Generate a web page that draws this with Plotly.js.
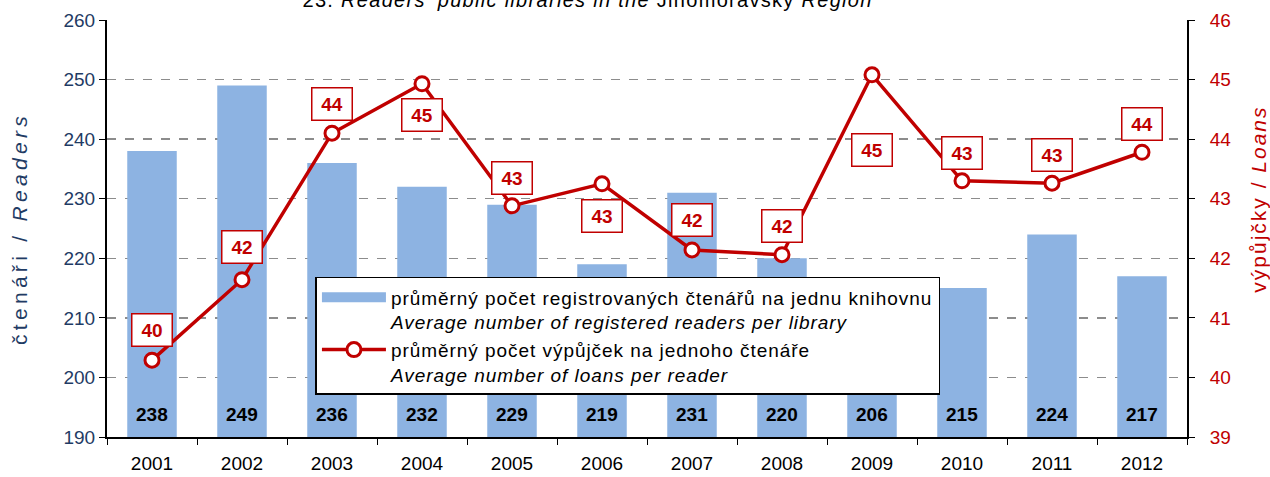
<!DOCTYPE html>
<html>
<head>
<meta charset="utf-8">
<script src="https://cdn.plot.ly/plotly-3.0.1.min.js"></script>
<style>
html,body{margin:0;padding:0;background:#fff;}
#chart{width:1270px;height:477px;}
#err{position:absolute;left:0;top:0;color:#f0f;font-size:12px;}
.legendtext{letter-spacing:0.95px;}
.ytitle{letter-spacing:4.3px;}
.gtitle{letter-spacing:1.3px;}
#chart g.annotation[data-index="24"] text{letter-spacing:2px;}
</style>
</head>
<body>
<div id="chart"></div>
<div id="err"></div>
<script>
const years = ['2001','2002','2003','2004','2005','2006','2007','2008','2009','2010','2011','2012'];
const readers = [238, 249, 236, 232, 229, 219, 231, 220, 206, 215, 224, 217];
const loans = [40.29, 41.64, 44.10, 44.93, 42.88, 43.25, 42.14, 42.06, 45.08, 43.30, 43.26, 43.78];
const loanLabels = ['40','42','44','45','43','43','42','42','45','43','43','44'];
const leftTicks = [190, 200, 210, 220, 230, 240, 250, 260];
const rightTicks = [39, 40, 41, 42, 43, 44, 45, 46];
const barName = 'průměrný počet registrovaných čtenářů na jednu knihovnu<br><i>Average number of registered readers per library</i>';
const lineName = 'průměrný počet výpůjček na jednoho čtenáře<br><i>Average number of loans per reader</i>';
const titleText = '23. <i>Readers\' public libraries in the</i> Jihomoravský <i>Region</i>';
const leftTitle = 'čtenáři / <i>Readers</i>';
const rightTitle = 'výpůjčky / <i>Loans</i>';

// label offsets in pixels (layout, not data)
const labelShift = [30, 33, 29, -31, 28, -32, 30, 29, -75, 28, 28, 28];

const RED = '#c00000';
const BLUE = '#8db3e2';
const FONT = 'Liberation Sans, Arial, sans-serif';

try {
const traces = [
  {
    type: 'bar', x: years, y: readers, name: barName, showlegend: false,
    marker: {color: BLUE}, width: 0.55, yaxis: 'y', hoverinfo: 'none'
  },
  {
    // legend key for the bar series (wide swatch like the original)
    type: 'scatter', mode: 'lines', x: [years[0]], y: [null], name: barName,
    yaxis: 'y', line: {color: BLUE, width: 15}, hoverinfo: 'none'
  },
  {
    type: 'scatter', mode: 'lines+markers', x: years, y: loans, name: lineName,
    yaxis: 'y2', line: {color: RED, width: 3.5},
    marker: {symbol: 'circle', size: 14, color: '#ffffff', line: {color: RED, width: 3}},
    hoverinfo: 'none', cliponaxis: false
  }
];

const annotations = [];
years.forEach((yr, i) => {
  annotations.push({
    x: i, y: 190, xref: 'x', yref: 'y', yanchor: 'bottom', yshift: 10,
    text: '<b>' + readers[i] + '</b>', showarrow: false,
    font: {family: FONT, size: 19, color: '#000'}
  });
  annotations.push({
    x: i, y: loans[i], xref: 'x', yref: 'y2', yshift: labelShift[i],
    text: '<b>' + loanLabels[i] + '</b>', showarrow: false,
    font: {family: FONT, size: 19, color: RED},
    width: 37, height: 29, borderpad: 1,
    bgcolor: '#ffffff', bordercolor: RED, borderwidth: 1.5
  });
});
// right axis title (index 24)
annotations.push({
  x: 1.0665, y: 0.571, xref: 'paper', yref: 'paper', xanchor: 'center', yanchor: 'middle',
  textangle: -90, text: rightTitle, showarrow: false,
  font: {family: FONT, size: 21, color: RED}
});

const layout = {
  width: 1270, height: 477,
  margin: {l: 107, r: 83, t: 20, b: 40},
  paper_bgcolor: '#fff', plot_bgcolor: '#fff',
  font: {family: FONT, size: 16, color: '#000'},
  title: {
    text: titleText, x: 0.445, xref: 'paper', xanchor: 'center',
    y: 1, yref: 'container', yanchor: 'middle',
    font: {family: FONT, size: 20, color: '#000'}
  },
  showlegend: true,
  legend: {
    x: 0.193, y: 0.384, xanchor: 'left', yanchor: 'top',
    bgcolor: '#fff', bordercolor: '#000', borderwidth: 1.5,
    font: {family: FONT, size: 19, color: '#000'},
    valign: 'top', itemwidth: 64, tracegroupgap: 0
  },
  xaxis: {
    type: 'category', tickson: 'boundaries', ticks: 'outside', ticklen: 6,
    tickcolor: '#000', showline: true, linecolor: '#000', linewidth: 2,
    tickfont: {family: FONT, size: 19, color: '#000'}, showgrid: false,
    ticklabelstandoff: 8,
    range: [-0.5, 11.5]
  },
  yaxis: {
    range: [190, 260], tickvals: leftTicks, ticks: 'outside', ticklen: 6, tickcolor: '#000',
    showline: true, linecolor: '#000', linewidth: 2,
    showgrid: true, gridcolor: '#8c8c8c', griddash: 'dash', gridwidth: 1.5,
    tickfont: {family: FONT, size: 19, color: '#1f3b64'},
    title: {text: leftTitle, font: {family: FONT, size: 21, color: '#1f3b64'}, standoff: 30},
    zeroline: false
  },
  yaxis2: {
    range: [39, 46], tickvals: rightTicks, overlaying: 'y', side: 'right',
    ticks: 'outside', ticklen: 6, tickcolor: '#000',
    showline: true, linecolor: '#000', linewidth: 2, showgrid: false,
    tickfont: {family: FONT, size: 19, color: RED},
    ticklabelstandoff: 11,
    zeroline: false
  },
  annotations: annotations
};

Plotly.newPlot('chart', traces, layout, {displayModeBar: false, staticPlot: true}).catch(e => {document.getElementById('err').textContent = String(e);});
} catch (e) { document.getElementById('err').textContent = String(e); }
</script>
</body>
</html>
